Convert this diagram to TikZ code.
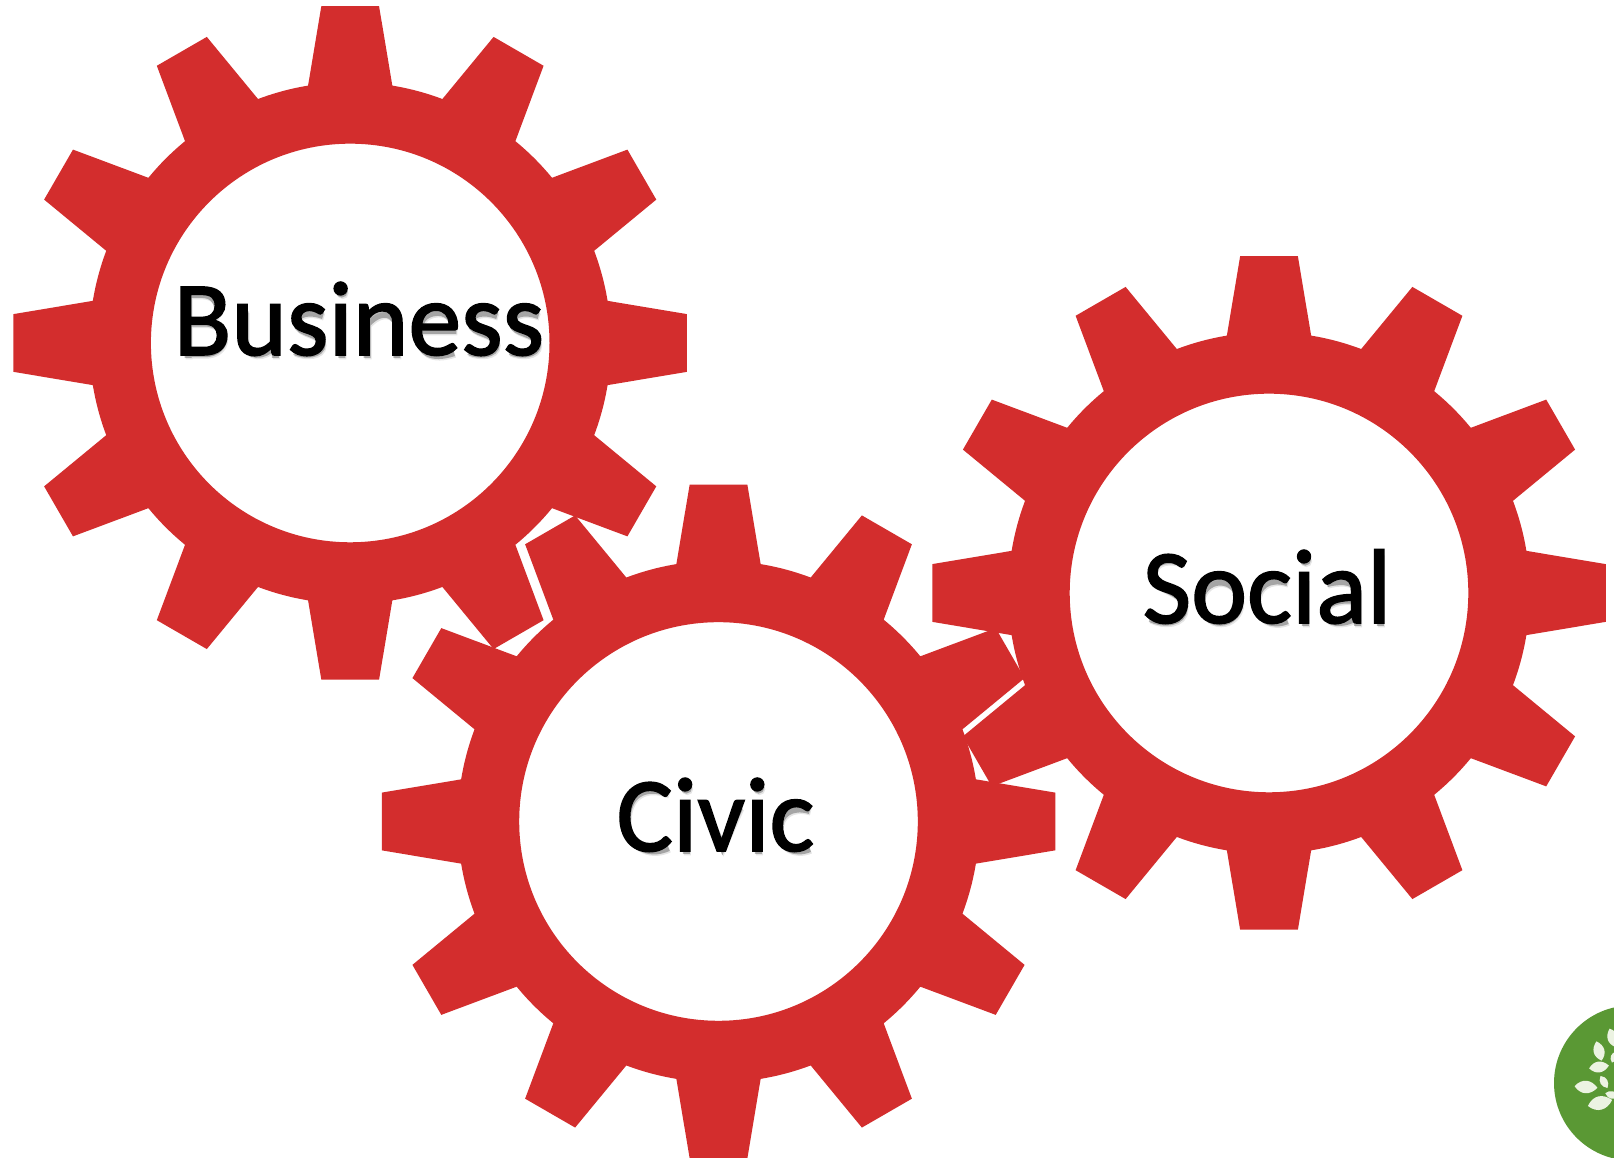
\documentclass[tikz,border=0pt]{standalone}
\usepackage{fontspec}
\setmainfont[FakeBold=1.5]{Carlito}
\definecolor{gearred}{RGB}{211,45,45}
\definecolor{logogreen}{RGB}{90,152,52}
\definecolor{leafwhite}{RGB}{236,243,226}
\newcommand{\gearshape}[2]{%
  \fill[gearred,even odd rule,shift={(#1,#2)}]
    (-9.3:260.8)
    \foreach \a in {0,30,...,330}{
      -- (\a-4.9:338) -- (\a+4.9:338) -- (\a+9.3:260.8)
      arc[start angle=\a+9.3,end angle=\a+20.7,radius=260.8]
    } -- cycle
    (199.3,0) arc[start angle=0,end angle=360,radius=199.3];
}
\newcommand{\leaf}[4]{%
  \fill[leafwhite,shift={(#1,#2)},rotate=#3,scale=#4]
    (-1,0) .. controls (-.4,.75) and (.4,.7) .. (1,0)
    .. controls (.4,-.7) and (-.4,-.75) .. (-1,0);
}
% centre lines of the letters, in em, for the soft shadow under the words
\newcommand{\glB}{(.125,0) -- (.125,.6) (.125,.04) -- (.28,.04) .. controls (.52,.04) and (.52,.33) .. (.28,.33) -- (.125,.33) (.28,.33) .. controls (.45,.36) and (.45,.6) .. (.25,.6) -- (.125,.6)}
\newcommand{\glu}{(.12,.44) -- (.12,.16) .. controls (.12,.0) and (.3,.0) .. (.4,.12) (.405,.44) -- (.405,0)}
\newcommand{\gls}{(.33,.40) .. controls (.2,.45) and (.07,.42) .. (.08,.33) .. controls (.09,.22) and (.32,.24) .. (.32,.13) .. controls (.32,.02) and (.15,.02) .. (.06,.06)}
\newcommand{\gli}{(.115,0) -- (.115,.44) (.115,.625) circle[radius=.02]}
\newcommand{\gln}{(.125,0) -- (.125,.44) (.125,.32) .. controls (.25,.46) and (.405,.44) .. (.405,.27) -- (.405,0)}
\newcommand{\gle}{(.42,.05) .. controls (.2,-.02) and (.085,.05) .. (.085,.23) .. controls (.085,.4) and (.2,.43) .. (.27,.43) .. controls (.38,.43) and (.42,.34) .. (.41,.26) -- (.09,.26)}
\newcommand{\glC}{(.48,.57) .. controls (.25,.66) and (.09,.55) .. (.09,.32) .. controls (.09,.08) and (.28,-.03) .. (.48,.06)}
\newcommand{\glc}{(.37,.41) .. controls (.2,.46) and (.08,.38) .. (.08,.23) .. controls (.08,.06) and (.22,-.01) .. (.37,.05)}
\newcommand{\glv}{(.06,.44) -- (.226,.07) -- (.39,.44)}
\newcommand{\glS}{(.38,.59) .. controls (.25,.64) and (.09,.63) .. (.09,.49) .. controls (.09,.32) and (.38,.35) .. (.38,.17) .. controls (.38,.02) and (.18,.01) .. (.06,.07)}
\newcommand{\glo}{(.263,.225) ellipse[x radius=.185,y radius=.19]}
\newcommand{\gla}{(.38,0) -- (.38,.30) .. controls (.38,.42) and (.25,.44) .. (.09,.40) (.38,.24) .. controls (.2,.26) and (.07,.22) .. (.07,.13) .. controls (.07,.02) and (.25,.0) .. (.38,.09)}
\newcommand{\gll}{(.115,0) -- (.115,.68)}
\newcommand{\glyph}[2]{\draw[shadowstroke,shift={(#1,0)}] #2;}
\newcommand{\wordshadow}[3]{%
  \foreach \dx/\dy/\op in {2/-4.5/.10,1/-3/.28}{
    \begin{scope}[shift={(#1+\dx,#2+\dy)},x=106pt,y=106pt,transparency group,opacity=\op]
      #3
    \end{scope}
  }
}
\tikzset{
  lbl/.style={anchor=base,inner sep=0pt,text=black,font=\fontsize{106}{122}\selectfont},
  shadowstroke/.style={draw=black,line width=7pt}
}
\begin{document}
\begin{tikzpicture}[x=1pt,y=1pt]
\useasboundingbox (0,0) rectangle (1614,1158);
\clip (0,0) rectangle (1614,1158);
\fill[white] (0,0) rectangle (1614,1158);
\gearshape{350.2}{815}
\gearshape{718.5}{336.5}
\gearshape{1269}{565}
\wordshadow{173.8}{803}{\glyph{0}{\glB}\glyph{.544}{\glu}\glyph{1.069}{\gls}\glyph{1.46}{\gli}\glyph{1.689}{\gln}\glyph{2.214}{\gle}\glyph{2.712}{\gls}\glyph{3.103}{\gls}}
\wordshadow{616.6}{307}{\glyph{0}{\glC}\glyph{.533}{\gli}\glyph{.762}{\glv}\glyph{1.214}{\gli}\glyph{1.443}{\glc}}
\wordshadow{1142.7}{535}{\glyph{0}{\glS}\glyph{.459}{\glo}\glyph{.986}{\glc}\glyph{1.409}{\gli}\glyph{1.638}{\gla}\glyph{2.117}{\gll}}
\node[lbl] (business) at (359,803) {Business};
\node[lbl] (civic) at (715.5,307) {Civic};
\node[lbl] (social) at (1267,535) {Social};
\fill[logogreen] (1631.5,75) circle[radius=77.5];
\leaf{1599}{107}{105}{10}
\leaf{1599}{91}{8}{10}
\leaf{1586}{71}{-4}{11.5}
\leaf{1604}{76}{-60}{7}
\leaf{1600}{55}{14}{12.5}
\leaf{1613}{120}{110}{10}
\leaf{1614}{101}{70}{6}
\leaf{1612}{63}{-15}{7}
\end{tikzpicture}
\end{document}
